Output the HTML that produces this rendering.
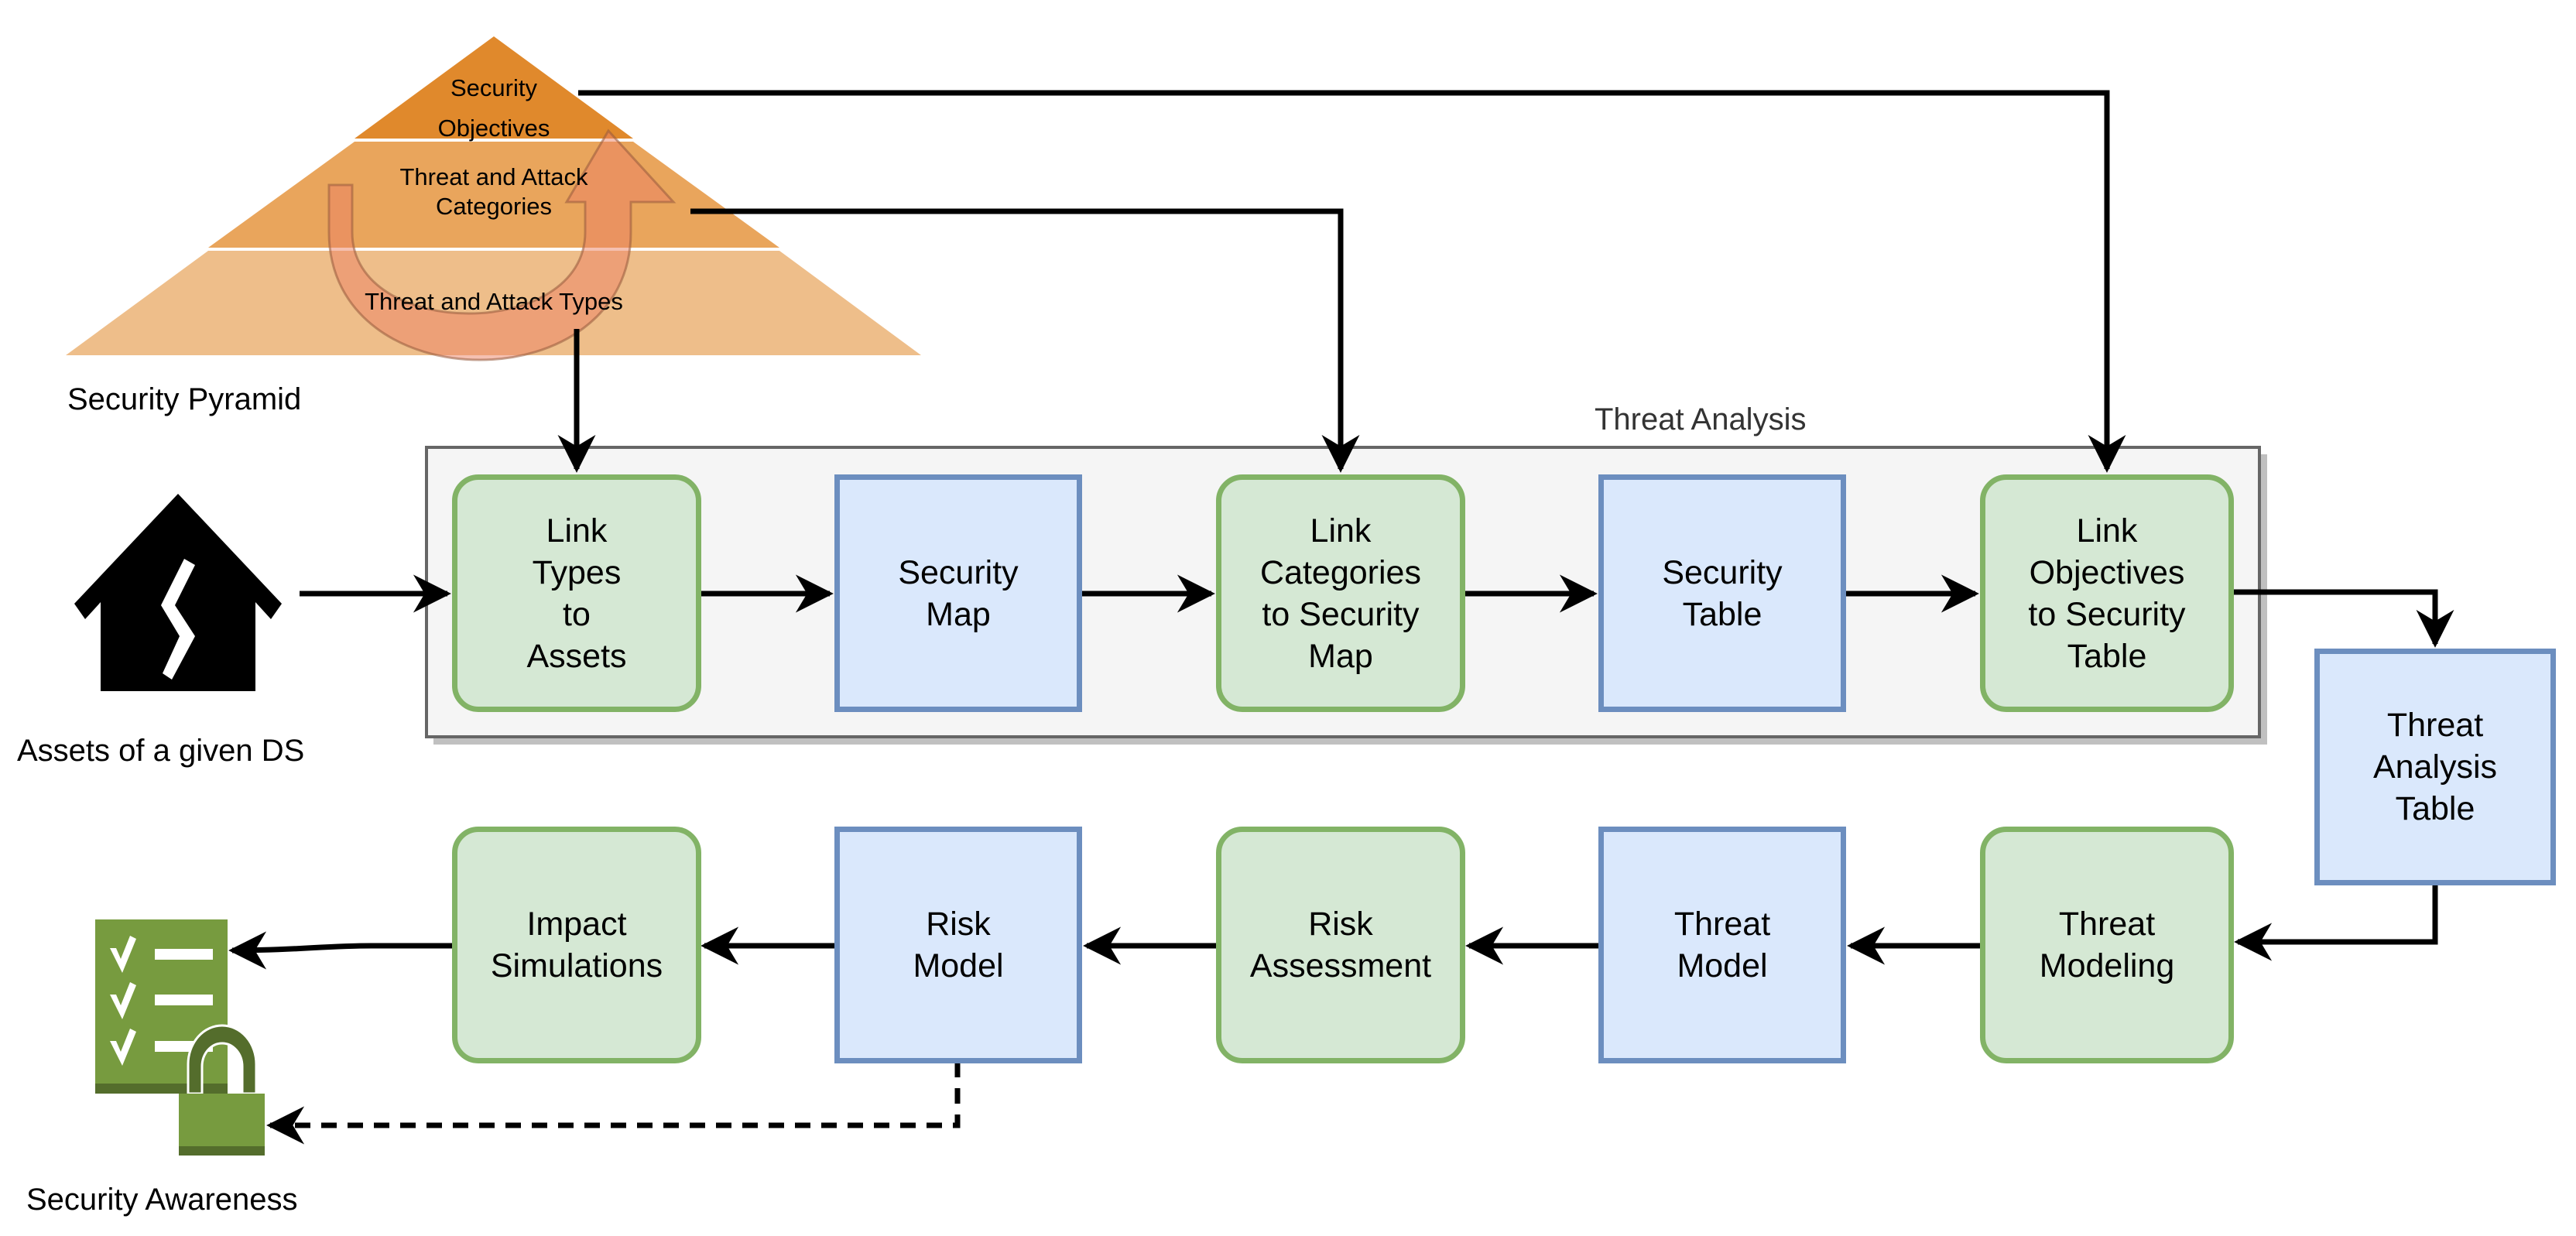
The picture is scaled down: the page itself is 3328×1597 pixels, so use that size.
<!DOCTYPE html>
<html><head><meta charset="utf-8"><style>
html,body{margin:0;padding:0;background:#fff;}
body{width:3328px;height:1597px;position:relative;overflow:hidden;font-family:"Liberation Sans",sans-serif;}
.b{position:absolute;box-sizing:border-box;display:flex;align-items:center;justify-content:center;text-align:center;font-size:43px;line-height:54px;color:#000;}
.g{background:#d5e8d4;border:7px solid #82b366;border-radius:34px;}
.u{background:#dae8fc;border:7px solid #6c8ebf;}
.t{position:absolute;font-size:40px;color:#000;white-space:nowrap;}
</style></head><body>
<svg width="3328" height="1597" style="position:absolute;left:0;top:0">
<defs>
<marker id="a" viewBox="0 0 10 10" refX="9" refY="5" markerWidth="7" markerHeight="7" markerUnits="strokeWidth" orient="auto"><path d="M0,0 L10,5 L0,10 L3,5 Z" fill="#000"/></marker>
</defs>
<!-- pyramid -->
<polygon points="85,459 1190,459 1007,324 269,324" fill="#eebe8a"/>
<polygon points="269,320 1007,320 818,183 458,183" fill="#e9a55c"/>
<polygon points="458,179 818,179 638,47" fill="#e0892c"/>
<!-- circular arrow -->
<path d="M425,239 L455,239 L455,300 C455,440 756,440 756,300 L756,261 L732,261 L786,169 L870,261 L815,261 L815,300 C815,520 425,520 425,300 Z" fill="rgba(236,130,100,0.5)" stroke="rgba(150,90,60,0.55)" stroke-width="3"/>
<!-- container -->
<rect x="560" y="587" width="2369" height="375" fill="#c0c0c0"/>
<rect x="551" y="578" width="2368" height="374" fill="#f5f5f5" stroke="#666" stroke-width="4"/>
<g stroke="#000" stroke-width="7" fill="none" marker-end="url(#a)">
<path d="M747,120 H2722 V606"/>
<path d="M892,273 H1732 V606"/>
<path d="M745,425 V606"/>
<path d="M387,767 H578"/>
<path d="M904,767 H1072"/>
<path d="M1398,767 H1565"/>
<path d="M1892,767 H2059"/>
<path d="M2385,767 H2552"/>
<path d="M2885,765 H3146 V832"/>
<path d="M3146,1142 V1217 H2891"/>
<path d="M2558,1222 H2391"/>
<path d="M2065,1222 H1898"/>
<path d="M1571,1222 H1404"/>
<path d="M1078,1222 H910"/>
<path d="M584,1222 H480 C420,1222 380,1228 300,1228"/>
<path d="M1237,1372 V1454 H349" stroke-dasharray="20,14"/>
</g>
<!-- house -->
<polygon points="230,638 96,780 110,800 130,778 130,893 330,893 330,778 350,800 364,780" fill="#000"/>
<polygon points="238,722 208,782 232,822 210,870 222,878 252,822 226,782 252,730" fill="#fff"/>
<!-- checklist -->
<rect x="123" y="1188" width="171" height="225" fill="#779b3f"/>
<rect x="123" y="1400" width="171" height="13" fill="#546d2c"/>
<g fill="#fff">
<rect x="200" y="1226" width="75" height="14"/><rect x="200" y="1285" width="75" height="14"/><rect x="200" y="1345" width="75" height="14"/>
<path d="M142,1225 l8,0 l6,14 l12,-30 l8,4 l-18,44 z"/><path d="M142,1285 l8,0 l6,14 l12,-30 l8,4 l-18,44 z"/><path d="M142,1345 l8,0 l6,14 l12,-30 l8,4 l-18,44 z"/>
</g>
<path d="M243,1413 V1375 A44,50 0 0 1 331,1375 V1413 H313 V1378 A26,30 0 0 0 261,1378 V1413 Z" fill="#546d2c" stroke="#fff" stroke-width="3"/>
<rect x="231" y="1413" width="111" height="80" fill="#779b3f"/>
<rect x="231" y="1481" width="111" height="12" fill="#546d2c"/>
</svg>
<div class="t" style="left:0;width:1276px;top:88px;font-size:31px;text-align:center;line-height:52px">Security<br>Objectives</div>
<div class="t" style="left:0;width:1276px;top:210px;font-size:31px;text-align:center;line-height:38px">Threat and Attack<br>Categories</div>
<div class="t" style="left:0;width:1276px;top:372px;font-size:31px;text-align:center">Threat and Attack Types</div>
<div class="t" style="left:87px;top:494px">Security Pyramid</div>
<div class="t" style="left:2060px;top:520px;font-size:40px;color:#333">Threat Analysis</div>
<div class="t" style="left:22px;top:948px">Assets of a given DS</div>
<div class="t" style="left:34px;top:1528px">Security Awareness</div>
<div class="b g" style="left:584px;top:613px;width:322px;height:307px">Link<br>Types<br>to<br>Assets</div>
<div class="b u" style="left:1078px;top:613px;width:320px;height:307px">Security<br>Map</div>
<div class="b g" style="left:1571px;top:613px;width:322px;height:307px">Link<br>Categories<br>to Security<br>Map</div>
<div class="b u" style="left:2065px;top:613px;width:320px;height:307px">Security<br>Table</div>
<div class="b g" style="left:2558px;top:613px;width:328px;height:307px">Link<br>Objectives<br>to Security<br>Table</div>
<div class="b u" style="left:2990px;top:838px;width:312px;height:306px">Threat<br>Analysis<br>Table</div>
<div class="b g" style="left:584px;top:1068px;width:322px;height:306px">Impact<br>Simulations</div>
<div class="b u" style="left:1078px;top:1068px;width:320px;height:306px">Risk<br>Model</div>
<div class="b g" style="left:1571px;top:1068px;width:322px;height:306px">Risk<br>Assessment</div>
<div class="b u" style="left:2065px;top:1068px;width:320px;height:306px">Threat<br>Model</div>
<div class="b g" style="left:2558px;top:1068px;width:328px;height:306px">Threat<br>Modeling</div>
</body></html>
